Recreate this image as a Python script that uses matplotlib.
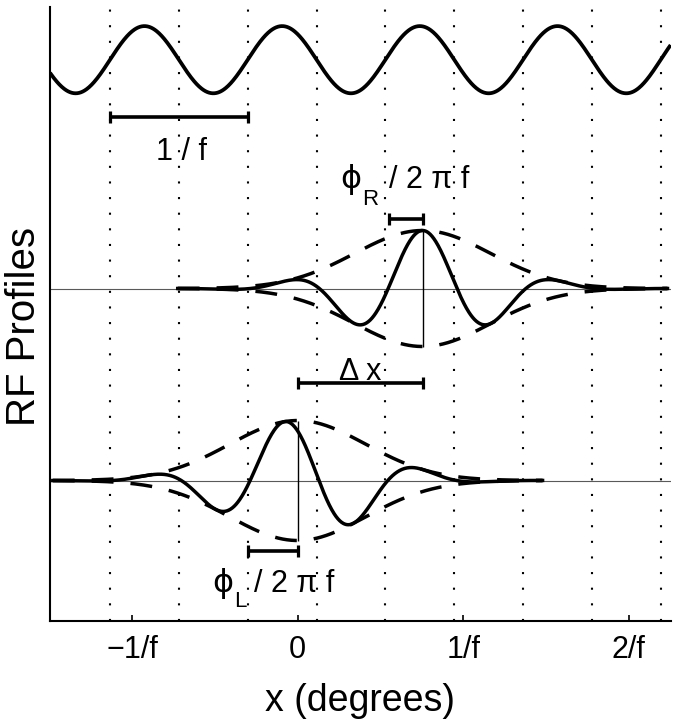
import numpy as np
import matplotlib.pyplot as plt

plt.rcParams['font.family'] = ['Liberation Sans', 'DejaVu Sans']

# x in units of the "1/f" tick spacing, y is height above the x axis
x_range = (-1.497, 2.254)
y_range = (0, 614)
tick_pos = [-1, 0, 1, 2]
tick_labels = ['\u22121/f', '0', '1/f', '2/f']

# grating on top
period = 0.832
grating_zero = -1.134      # rising zero crossing
grating_level = 561
grating_amp = 33.6
n_grid = 9                 # dotted lines at the grating zero crossings

# the two RF profiles (right eye above, left eye below)
rf_center = [0.755, 0.0]
rf_phase = [0.0, 0.6]
rf_amp = [58, 60]
rf_level = [332.2, 140.2]
rf_sigma = 0.41
rf_halfwidth = 1.48

# bracket bars
bar_start = [-1.134, 0.553, 0.0, -0.298]
bar_end = [-0.302, 0.755, 0.755, 0.0]
bar_y = [504, 401.4, 238, 70]

# plain labels
label_text = ['1 / f', '\u0394 x']
label_x = [-0.705, 0.379]
label_y = [460.7, 240.7]

# phase labels: phi, subscript, rest
phase_sub = ['R', 'L']
phi_x = [0.258, -0.516]
phi_y = [432.7, 29]
sub_x = [0.392, -0.382]
sub_y = [415.7, 13.5]
rest_x = [1.035, 0.219]


fig = plt.figure(figsize=(6.79, 7.2), dpi=100)
ax = fig.add_axes([0.0736, 0.1379, 0.9141, 0.8528])

# dotted vertical lines
grid_x = grating_zero + 0.5 * period * np.arange(n_grid)
for gx in grid_x:
    ax.axvline(gx, color='k', lw=1.5, linestyle=(0, (1, 6.5)), zorder=1)

# grating
xs = np.linspace(x_range[0], x_range[1], 1000)
ax.plot(xs, grating_level + grating_amp * np.sin(2 * np.pi * (xs - grating_zero) / period),
        color='k', lw=2.7, solid_capstyle='butt')

# RF profiles: gabor with dashed gaussian envelope
for c, ph, a, lev in zip(rf_center, rf_phase, rf_amp, rf_level):
    ax.axhline(lev, color='0.35', lw=0.8, zorder=1)
    x = np.linspace(c - rf_halfwidth, c + rf_halfwidth, 800)
    env = a * np.exp(-(x - c) ** 2 / (2 * rf_sigma ** 2))
    ax.plot(x, lev + env, color='k', lw=2.5, dashes=(6.3, 4.9))
    ax.plot(x, lev - env, color='k', lw=2.5, dashes=(6.3, 4.9))
    ax.plot(x, lev + env * np.cos(2 * np.pi * (x - c) / period + ph), color='k', lw=2.5)
    ax.vlines(c, lev - a, lev + a, color='k', lw=1.0)

# bars with end caps
for x0, x1, y in zip(bar_start, bar_end, bar_y):
    ax.errorbar((x0 + x1) / 2, y, xerr=(x1 - x0) / 2, fmt='none', ecolor='k',
                elinewidth=2.6, capsize=4.5, capthick=2.3)

for s, tx, ty in zip(label_text, label_x, label_y):
    ax.text(tx, ty, s, fontsize=22, ha='center', va='baseline')

for sub, px, py, sx, sy, rx in zip(phase_sub, phi_x, phi_y, sub_x, sub_y, rest_x):
    ax.text(px, py, '\u03d5', fontsize=23, ha='left', va='baseline',
            family=['DejaVu Sans', 'Liberation Sans'])
    ax.text(sx, sy, sub, fontsize=16, ha='left', va='baseline')
    ax.text(rx, py, '/ 2 \u03c0 f', fontsize=22, ha='right', va='baseline')

ax.set_xlim(*x_range)
ax.set_ylim(*y_range)
ax.set_xticks(tick_pos)
ax.set_xticklabels(tick_labels)
ax.set_yticks([])
ax.tick_params(axis='x', direction='in', length=4.5, width=1.2, pad=10.5, labelsize=22)
for side in ['top', 'right']:
    ax.spines[side].set_visible(False)
for side in ['left', 'bottom']:
    ax.spines[side].set_linewidth(1.5)

ax.set_xlabel('x (degrees)', fontsize=27, labelpad=13)
ax.set_ylabel('RF Profiles', fontsize=29)
ax.yaxis.set_label_coords(-0.012, 0.479)

fig.savefig('out.png', dpi=100)
